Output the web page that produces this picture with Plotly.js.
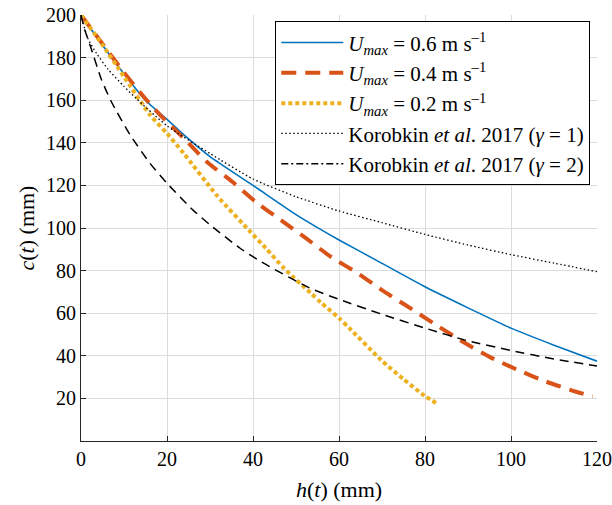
<!DOCTYPE html>
<html>
<head>
<meta charset="utf-8">
<script src="https://cdn.plot.ly/plotly-3.0.1.min.js"></script>
<style>html,body{margin:0;padding:0;background:#fff;}#chart{width:612px;height:505px;}</style>
</head>
<body>
<div id="chart"></div>
<script>
// Umax = 0.6 m/s
const h06 = [0, 7.5, 15, 20, 24, 30, 40, 50, 55, 60, 70, 80, 90, 100, 110, 120];
const c06 = [200, 179, 160, 151, 143.6, 133.5, 120, 106.3, 100.2, 94.4, 83.4, 72.4, 62.5, 53, 45, 37.5];
// Umax = 0.4 m/s
const h04 = [0, 4.8, 10, 13.8, 17.7, 24.7, 29.3, 35.2, 40.6, 46.5, 52.3, 58.1, 64.4, 70.6, 75.7, 81.9, 88.8, 95, 101.3, 108, 115.3, 119];
const c04 = [200, 187, 173, 163.5, 154.5, 140.5, 131, 121.7, 112.3, 103.7, 95.2, 86.5, 78.7, 70, 63.5, 55.4, 46.6, 39.5, 33.6, 28, 23, 21];
// Umax = 0.2 m/s
const h02 = [0, 5, 10, 16.1, 20, 23.9, 31.7, 39.5, 43, 47.2, 53.5, 55.8, 60.1, 62.4, 69.8, 75, 80, 83];
const c02 = [200, 186, 171, 153, 144.4, 135, 115, 98, 90.5, 81.1, 69.3, 65, 57.5, 53, 38, 29, 21.1, 17.3];
// Korobkin et al. 2017 (gamma = 1)
const hK1 = [0, 1.6, 3.6, 6.3, 10, 13, 20, 30, 40, 50, 60, 70, 80, 90, 100, 110, 120];
const cK1 = [200, 189, 182, 174.5, 166.5, 160.5, 148, 135, 123, 114.7, 108, 102.5, 97, 92, 87.5, 83.5, 79.5];
// Korobkin et al. 2017 (gamma = 2)
const hK2 = [0, 0.8, 2.4, 4.7, 7, 11.5, 16, 20, 26, 30, 37, 42, 53, 60, 70, 80, 90, 100, 110, 120];
const cK2 = [200, 193.5, 184, 170, 159.5, 143.5, 130.5, 121, 108.5, 101.5, 90.5, 84, 72, 66.5, 59.5, 53, 47, 42.5, 38.5, 35.2];

const xTicks = [0, 20, 40, 60, 80, 100, 120];
const yTicks = [20, 40, 60, 80, 100, 120, 140, 160, 180, 200];

const names = [
  '<i>U</i><sub><i>max</i></sub> = 0.6 m s<sup>–1</sup>',
  '<i>U</i><sub><i>max</i></sub> = 0.4 m s<sup>–1</sup>',
  '<i>U</i><sub><i>max</i></sub> = 0.2 m s<sup>–1</sup>',
  'Korobkin <i>et al</i>. 2017 (<i>γ</i> = 1)',
  'Korobkin <i>et al</i>. 2017 (<i>γ</i> = 2)'
];

const FAM = '"Liberation Serif", "Times New Roman", Times, serif';

const traces = [
  {x: h06, y: c06, name: names[0], mode: 'lines', line: {color: '#0072BD', width: 1.6, shape: 'spline', smoothing: 0.6}},
  {x: h04, y: c04, name: names[1], mode: 'lines', line: {color: '#D95319', width: 4, dash: '15px,9px', shape: 'spline', smoothing: 0.6}},
  {x: h02, y: c02, name: names[2], mode: 'lines', line: {color: '#EDB120', width: 4, dash: '4px,3px', shape: 'spline', smoothing: 0.6}},
  {x: hK1, y: cK1, name: names[3], mode: 'lines', line: {color: '#000000', width: 1.3, dash: '1.5px,2.5px', shape: 'spline', smoothing: 0.6}},
  {x: hK2, y: cK2, name: names[4], mode: 'lines', showlegend: false, line: {color: '#000000', width: 1.5, dash: '9px,6px', shape: 'spline', smoothing: 0.6}},
  {x: [null], y: [null], name: names[4], mode: 'lines', line: {color: '#000000', width: 1.5, dash: '7px,3px,2px,3px'}}
];

const layout = {
  width: 612, height: 505,
  margin: {l: 81, r: 15, t: 15, b: 64},
  paper_bgcolor: '#fff', plot_bgcolor: '#fff',
  font: {family: FAM, color: '#000', size: 20},
  showlegend: true,
  xaxis: {
    range: [0, 120], tickvals: xTicks, ticktext: xTicks.map(String),
    showgrid: true, gridcolor: '#dcdcdc', gridwidth: 1,
    showline: true, linecolor: '#262626', linewidth: 1,
    ticks: 'inside', ticklen: 5, tickcolor: '#262626',
    zeroline: false, tickfont: {family: FAM, size: 20, color: '#000'},
    title: {text: '<i>h</i>(<i>t</i>) (mm)', font: {family: FAM, size: 22, color: '#000'}, standoff: 12}
  },
  yaxis: {
    range: [0, 200], tickvals: yTicks, ticktext: yTicks.map(String),
    showgrid: true, gridcolor: '#dcdcdc', gridwidth: 1,
    showline: true, linecolor: '#262626', linewidth: 1,
    ticks: 'inside', ticklen: 5, tickcolor: '#262626',
    zeroline: false, tickfont: {family: FAM, size: 20, color: '#000'},
    title: {text: '<i>c</i>(<i>t</i>) (mm)', font: {family: FAM, size: 22, color: '#000'}, standoff: 5}
  },
  legend: {
    x: 0.987, y: 0.985, xanchor: 'right', yanchor: 'top',
    bgcolor: '#fff', bordercolor: '#000', borderwidth: 1,
    font: {family: FAM, size: 21, color: '#000'}, tracegroupgap: 0,
    itemwidth: 62
  }
};

Plotly.newPlot('chart', traces, layout, {displayModeBar: false, staticPlot: true});
</script>
</body>
</html>
